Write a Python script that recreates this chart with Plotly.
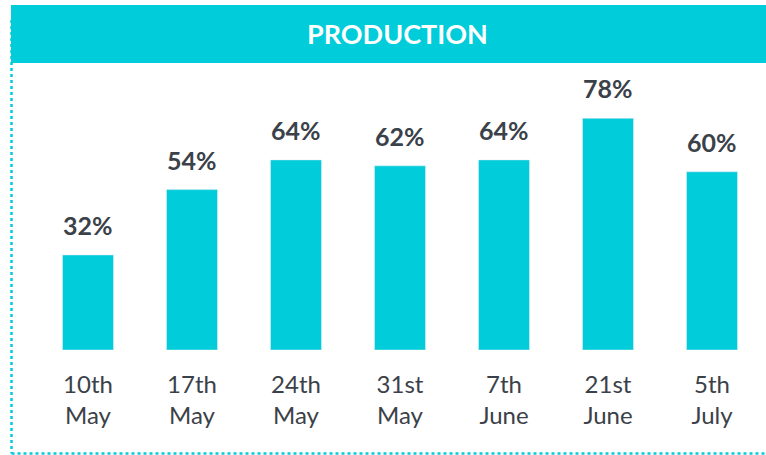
import plotly.graph_objects as go

categories = ["10th<br>May", "17th<br>May", "24th<br>May", "31st<br>May", "7th<br>June", "21st<br>June", "5th<br>July"]
values = [32, 54, 64, 62, 64, 78, 60]
labels = [f"{v}%" for v in values]
title = "PRODUCTION"

TEAL = "#00CCDA"
DARK = "#3B4149"
W, H = 766, 455
L, R, T, B = 36, 2, 63, 105
pw, ph = W - L - R, H - T - B

def px(x):
    return (x - L) / pw

def py(y):
    return (H - B - y) / ph

fig = go.Figure()
fig.add_trace(go.Bar(x=categories, y=values, marker_color=TEAL, width=0.49, hoverinfo="skip"))

for c, v, t in zip(categories, values, labels):
    fig.add_annotation(x=c, y=v, text=f"<b>{t}</b>", showarrow=False, yanchor="bottom",
                       yshift=13, font=dict(size=25, color=DARK, family="Lato"))

fig.add_shape(type="rect", xref="paper", yref="paper", x0=px(11), x1=px(800), y0=py(63), y1=py(5),
              fillcolor=TEAL, line_width=0, layer="below")
fig.add_shape(type="line", xref="paper", yref="paper", x0=px(11.5), x1=px(11.5), y0=py(20), y1=py(453.5),
              line=dict(color=TEAL, width=2.5, dash="dot"))
fig.add_shape(type="line", xref="paper", yref="paper", x0=px(11.5), x1=px(800), y0=py(453.5), y1=py(453.5),
              line=dict(color=TEAL, width=2.5, dash="dot"))
fig.add_annotation(xref="paper", yref="paper", x=px(397), y=py(34), text=f"<b>{title}</b>",
                   showarrow=False, font=dict(size=27, color="white", family="Lato"),
                   xanchor="center", yanchor="middle")

fig.update_layout(
    width=W, height=H, margin=dict(l=L, r=R, t=T, b=B),
    plot_bgcolor="white", paper_bgcolor="white", showlegend=False,
    font=dict(family="Lato", color=DARK),
    xaxis=dict(showgrid=False, showline=False, zeroline=False, ticks="outside", ticklen=13,
               tickcolor="rgba(0,0,0,0)", tickfont=dict(size=24, color=DARK, family="Lato")),
    yaxis=dict(range=[0, (H - B - T) / 2.97], visible=False, fixedrange=True),
)
fig.write_html("out.html", config={"displayModeBar": False},
               post_script="document.body.style.margin='0px';document.body.style.overflow='hidden';")
